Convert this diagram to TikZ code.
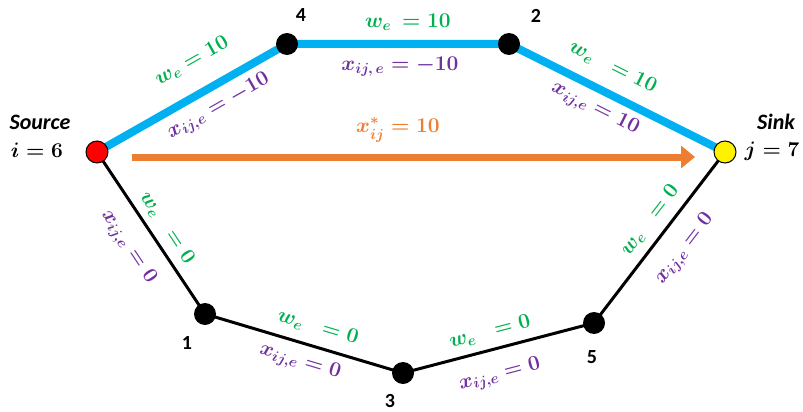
\RequirePackage{fix-cm}
\documentclass[tikz,border=0pt]{standalone}
\usepackage{fontspec}
\setmainfont{Carlito}
\usetikzlibrary{arrows.meta}
\definecolor{eblue}{RGB}{0,176,240}
\definecolor{egreen}{RGB}{0,176,80}
\definecolor{epurple}{RGB}{112,48,160}
\definecolor{eorange}{RGB}{237,125,49}
\tikzset{
  vtx/.style={circle, fill=black, minimum size=22pt, inner sep=0pt},
  endv/.style={circle, draw=black, line width=1pt, minimum size=22pt, inner sep=0pt},
  blueedge/.style={line width=8pt, eblue},
  blackedge/.style={line width=3pt, black},
  glab/.style={text=egreen, font=\fontsize{21}{24}\selectfont\boldmath, inner sep=0pt},
  plab/.style={text=epurple, font=\fontsize{21}{24}\selectfont\boldmath, inner sep=0pt},
  vlab/.style={font=\fontsize{20}{22}\selectfont\bfseries, inner sep=0pt},
  tlab/.style={font=\fontsize{22}{24}\selectfont\bfseries\itshape, inner sep=0pt},
  mlab/.style={font=\fontsize{21}{24}\selectfont\boldmath, inner sep=0pt},
}
\begin{document}
\begin{tikzpicture}[x=1pt,y=-1pt]
\useasboundingbox (0,0) rectangle (803,412);
% vertices
\coordinate (S) at (97,152);
\coordinate (v4) at (287,44);
\coordinate (v2) at (509,44);
\coordinate (T) at (725,152);
\coordinate (v1) at (205,314);
\coordinate (v3) at (403,373);
\coordinate (v5) at (594,323);
% edges
\draw[blueedge] (S) -- (v4) -- (v2) -- (T);
\draw[blackedge] (S) -- (v1) -- (v3) -- (v5) -- (T);
% nodes on top
\node[endv, fill=red] (nS) at (S) {};
\node[vtx] (n4) at (v4) {};
\node[vtx] (n2) at (v2) {};
\node[endv, fill=yellow] (nT) at (T) {};
\node[vtx] (n1) at (v1) {};
\node[vtx] (n3) at (v3) {};
\node[vtx] (n5) at (v5) {};
% flow arrow
\coordinate (fa) at (132,157);
\coordinate (fb) at (695,157);
\draw[line width=7pt, eorange, -{Triangle[length=14pt,width=22pt]}] (fa) -- (fb);
\node[mlab, text=eorange] (flow) at (398,130) {$x^{*}_{ij} = 10$};
% vertex labels
\node[vlab] (l4) at (301,15) {4};
\node[vlab] (l2) at (536,16) {2};
\node[vlab] (l1) at (187,343) {1};
\node[vlab] (l3) at (390,401) {3};
\node[vlab] (l5) at (592,357) {5};
\node[tlab] (src) at (40,122) {Source};
\node[mlab] (srci) at (37,150) {$i = 6$};
\node[tlab] (snk) at (776,122) {Sink};
\node[mlab] (snkj) at (772,151) {$j = 7$};
% edge labels
\node[glab, rotate=29.6] (g1) at (192,61) {$w_e = 10$};
\node[plab, rotate=29.6] (p1) at (219,107) {$x_{ij,e} = -10$};
\node[glab] (g2) at (408,22) {$w_e\, = 10$};
\node[plab] (p2) at (400,67) {$x_{ij,\,e} = -10$};
\node[glab, rotate=-26.6] (g3) at (613,67) {$w_e\;\; = 10$};
\node[plab, rotate=-26.6] (p3) at (595,109) {$x_{ij,e} = 10$};
\node[glab, rotate=-56.3] (g4) at (167,228) {$w_e\;\; = 0$};
\node[plab, rotate=-56.3] (p4) at (128,247) {$x_{ij,e} = 0$};
\node[glab, rotate=-16.6] (g5) at (318,327) {$w_e\;\; = 0$};
\node[plab, rotate=-16.6] (p5) at (300,362) {$x_{ij,e} = 0$};
\node[glab, rotate=14.7] (g6) at (490,332) {$w_e\;\; = 0$};
\node[plab, rotate=14.7] (p6) at (500,375) {$x_{ij,e} = 0$};
\node[glab, rotate=52.5] (g7) at (650,220) {$w_e\;\; = 0$};
\node[plab, rotate=52.5] (p7) at (685,249) {$x_{ij,e} = 0$};
\end{tikzpicture}
\end{document}
